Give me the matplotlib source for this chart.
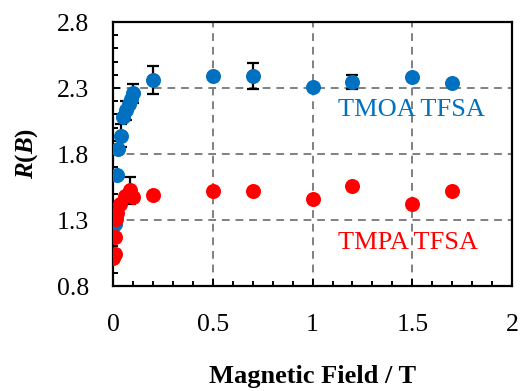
import numpy as np
import matplotlib
matplotlib.use("Agg")
import matplotlib.pyplot as plt
from matplotlib.ticker import MultipleLocator, FixedLocator, FuncFormatter

plt.rcParams["font.family"] = ["Liberation Serif", "DejaVu Serif"]
plt.rcParams["mathtext.fontset"] = "custom"
plt.rcParams["mathtext.bfit"] = "Liberation Serif:italic:bold"

# TMOA TFSA (blue)
tmoa_field = [0.01, 0.018, 0.027, 0.038, 0.052, 0.065, 0.082, 0.09, 0.1,
              0.2, 0.5, 0.7, 1.0, 1.2, 1.5, 1.7]
tmoa_r = [1.27, 1.64, 1.84, 1.94, 2.08, 2.13, 2.18, 2.22, 2.26,
          2.36, 2.39, 2.39, 2.31, 2.345, 2.38, 2.335]
tmoa_err = [0, 0, 0, 0.09, 0, 0.07, 0, 0, 0.07,
            0.105, 0, 0.1, 0, 0.055, 0, 0]

# TMPA TFSA (red)
tmpa_field = [0.0, 0.01, 0.012, 0.015, 0.02, 0.035, 0.06, 0.085, 0.1,
              0.2, 0.5, 0.7, 1.0, 1.2, 1.5, 1.7]
tmpa_r = [1.01, 1.045, 1.17, 1.31, 1.35, 1.425, 1.485, 1.525, 1.475,
          1.487, 1.52, 1.52, 1.462, 1.558, 1.425, 1.52]
tmpa_err = [0, 0.03, 0, 0, 0, 0, 0, 0.1, 0,
            0, 0, 0, 0, 0, 0, 0]

BLUE = "#0070C0"
RED = "#FF0000"

fig = plt.figure(figsize=(5.22, 3.91), dpi=100)
ax = fig.add_axes([0.2165, 0.2685, 0.7645, 0.6752])

for fld, r, err, col in [(tmoa_field, tmoa_r, tmoa_err, BLUE),
                         (tmpa_field, tmpa_r, tmpa_err, RED)]:
    fld = np.array(fld)
    r = np.array(r)
    err = np.array(err)
    m = err > 0
    ax.errorbar(fld[m], r[m], yerr=err[m], fmt="none", ecolor="black",
                elinewidth=1.6, capsize=4.3, capthick=1.6, zorder=3)
    ax.plot(fld, r, "o", color=col, ms=10.8, mec="none", zorder=4)

ax.set_xlim(0, 2)
ax.set_ylim(0.8, 2.8)
ax.xaxis.set_major_locator(MultipleLocator(0.5))
ax.xaxis.set_minor_locator(MultipleLocator(0.1))
ax.yaxis.set_major_locator(FixedLocator([0.8, 1.3, 1.8, 2.3, 2.8]))
ax.yaxis.set_minor_locator(MultipleLocator(0.1))
ax.xaxis.set_major_formatter(FuncFormatter(lambda v, p: f"{v:g}"))
ax.yaxis.set_major_formatter(FuncFormatter(lambda v, p: f"{v:.1f}"))

ax.tick_params(which="both", direction="in", width=1.4, labelsize=18.5)
ax.tick_params(which="major", length=5)
ax.tick_params(which="minor", length=3.5)
ax.tick_params(axis="x", which="major", pad=20)
ax.tick_params(axis="y", which="major", pad=17)

for s in ax.spines.values():
    s.set_linewidth(1.6)

ax.grid(True, which="major", color="#808080", linestyle=(0, (4, 3)), linewidth=1.4)
ax.set_axisbelow(True)

ax.text(1.13, 2.13, "TMOA TFSA", color=BLUE, fontsize=19, va="center")
ax.text(1.13, 1.125, "TMPA TFSA", color=RED, fontsize=19, va="center")

ax.set_xlabel("Magnetic Field / T", fontsize=19, fontweight="bold", labelpad=21)
ax.set_ylabel(r"$\mathbfit{R}$($\mathbfit{B}$)", fontsize=18, fontweight="bold", labelpad=12)

fig.savefig("out.png", dpi=100)
